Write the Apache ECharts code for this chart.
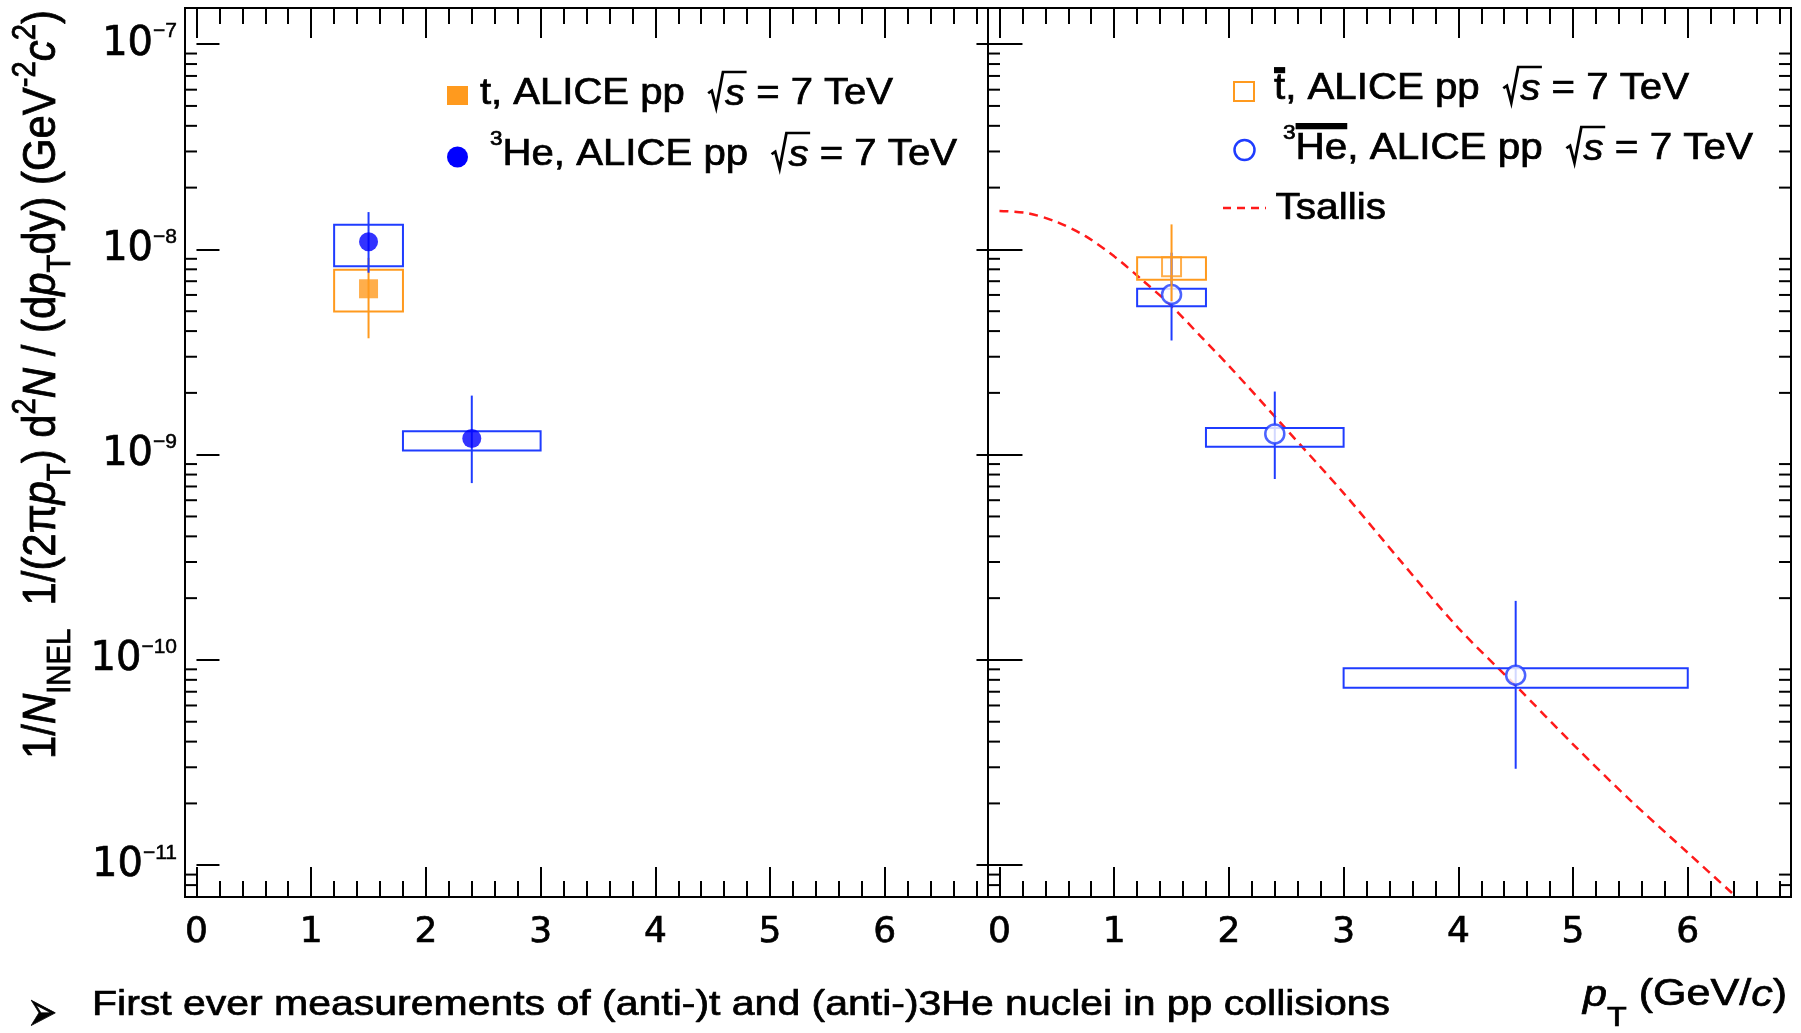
<!DOCTYPE html>
<html><head><meta charset="utf-8">
<script src="https://cdn.jsdelivr.net/npm/echarts@6/dist/echarts.min.js"></script>
<style>html,body{margin:0;padding:0;background:#fff}#c{width:1801px;height:1033px}</style>
</head><body><div id="c"></div>
<script>
// ---------------- data ----------------
const xTickValues = [0, 1, 2, 3, 4, 5, 6];
const yTickPowers = [-11, -10, -9, -8, -7];

// left panel : t, ALICE pp 7 TeV
const tPt        = [1.5];
const tYield     = [6.43e-9];
const tStatLow   = [3.69e-9];
const tStatHigh  = [9.1e-9];
const tSystLow   = [4.99e-9];
const tSystHigh  = [7.96e-9];
const tBinLow    = [1.2];
const tBinHigh   = [1.8];

// left panel : 3He, ALICE pp 7 TeV
const he3Pt       = [1.5, 2.4];
const he3Yield    = [1.09e-8, 1.20e-9];
const he3StatLow  = [7.7e-9, 7.27e-10];
const he3StatHigh = [1.52e-8, 1.94e-9];
const he3SystLow  = [8.29e-9, 1.047e-9];
const he3SystHigh = [1.32e-8, 1.30e-9];
const he3BinLow   = [1.2, 1.8];
const he3BinHigh  = [1.8, 3.0];

// right panel : anti-t
const atPt        = [1.5];
const atYield     = [8.23e-9];
const atStatLow   = [5.6e-9];
const atStatHigh  = [1.324e-8];
const atSystLow   = [7.11e-9];
const atSystHigh  = [9.17e-9];
const atBinLow    = [1.2];
const atBinHigh   = [1.8];

// right panel : anti-3He
const ahePt       = [1.5, 2.4, 4.5];
const aheYield    = [6.03e-9, 1.262e-9, 8.42e-11];
const aheStatLow  = [3.6e-9, 7.61e-10, 2.95e-11];
const aheStatHigh = [9.64e-9, 2.03e-9, 1.94e-10];
const aheSystLow  = [5.29e-9, 1.094e-9, 7.33e-11];
const aheSystHigh = [6.43e-9, 1.349e-9, 9.11e-11];
const aheBinLow   = [1.2, 1.8, 3.0];
const aheBinHigh  = [1.8, 3.0, 6.0];

// right panel : Tsallis fit curve
const tsallisPt = [0, 0.25, 0.5, 0.75, 1.0, 1.25, 1.5, 1.75, 2.0, 2.5, 3.0, 3.5, 4.0, 4.5, 5.0, 5.5, 6.0, 6.4];
const tsallisY  = [1.54e-8, 1.50e-8, 1.36e-8, 1.16e-8, 9.25e-9, 7.05e-9, 5.3e-9, 3.79e-9, 2.71e-9,
                   1.33e-9, 6.5e-10, 3.02e-10, 1.43e-10, 7.5e-11, 3.88e-11, 2.07e-11, 1.15e-11, 7.2e-12];

// axis ranges
const xMin = -0.1, xMax = 6.9;
const yMin = 7e-12, yMax = 1.5e-7;

// ---------------- styling ----------------
const ORANGE = '#ff9a1e';
const BLUE = '#0000ff';
const BLUE_BOX = '#1f3cff';
const RED = '#ff1a1a';
const FAM = '"Liberation Sans", Arial, Helvetica, sans-serif';
const NUMFAM = '"DejaVu Sans", sans-serif';
const TEXT_STROKE = 0.7;

// minor tick positions of the log axis (2..9 x 10^n inside the range)
const yMinorTicks = [];
for (let e = -12; e <= -7; e++) for (let m = 2; m <= 9; m++) {
  const v = m * Math.pow(10, e);
  if (v > yMin * 1.0001 && v < yMax * 0.9999) yMinorTicks.push(v);
}

// ---------------- text helpers ----------------
const mctx = document.createElement('canvas').getContext('2d');
function fnt(sz, it, fam) { return (it ? 'italic ' : '') + sz.toFixed(2) + 'px ' + (fam || FAM); }
function txt(t, x, by, f, sz) {
  return { type: 'text', x: x, y: by - 0.3465 * sz,
    style: { text: t, font: f, fill: '#000', stroke: '#000', lineWidth: TEXT_STROKE,
      align: 'left', verticalAlign: 'middle', textAlign: 'left', textVerticalAlign: 'middle' } };
}
function buildText(segs, o) {
  const S = o.size;
  let cx = 0; const kids = [];
  for (const s of segs) {
    const sz = (s.k || 1) * S;
    const by = (s.dy || 0) * S;
    if (s.sqrt) {
      const rw = 0.45 * sz;
      const f = fnt(sz, true, o.family);
      mctx.font = f; const ws = mctx.measureText(s.sqrt).width;
      kids.push({ type: 'polyline', shape: { points: [
        [cx + 0.03 * sz, by - 0.38 * sz], [cx + 0.12 * sz, by - 0.45 * sz], [cx + 0.23 * sz, by + 0.02 * sz],
        [cx + 0.40 * sz, by - 0.97 * sz], [cx + rw + ws + 0.04 * sz, by - 0.97 * sz]] },
        style: { stroke: '#000', fill: 'none', lineWidth: 2.5 } });
      kids.push(txt(s.sqrt, cx + rw, by, f, sz));
      cx += rw + ws;
      continue;
    }
    const f = fnt(sz, s.i, s.fam || o.family);
    mctx.font = f; const w = mctx.measureText(s.t).width;
    kids.push(txt(s.t, cx, by, f, sz));
    if (s.bar) kids.push({ type: 'rect', shape: { x: cx, y: s.bar[0] * S, width: w, height: s.bar[1] * S }, style: { fill: '#000' } });
    cx += w;
  }
  const sx = o.width ? o.width / cx : (o.sx || 1);
  return { type: 'group', x: o.x, y: o.y, rotation: o.rotation || 0, scaleX: sx, scaleY: o.sy || 1, children: kids, silent: true };
}

// ---------------- series helpers ----------------
function boxSeries(xi, yi, lo, hi, ylo, yhi, color, z) {
  return { type: 'custom', xAxisIndex: xi, yAxisIndex: yi, silent: true, z: z, animation: false,
    data: lo.map((v, i) => [lo[i], hi[i], ylo[i], yhi[i]]),
    encode: { x: [0, 1], y: [2, 3] },
    renderItem: (p, api) => {
      const a = api.coord([api.value(0), api.value(3)]);
      const b = api.coord([api.value(1), api.value(2)]);
      return { type: 'rect', shape: { x: a[0], y: a[1], width: b[0] - a[0], height: b[1] - a[1] },
        style: { fill: 'none', stroke: color, lineWidth: 2 } };
    } };
}
function errSeries(xi, yi, x, lo, hi, color, z) {
  return { type: 'custom', xAxisIndex: xi, yAxisIndex: yi, silent: true, z: z, animation: false,
    data: x.map((v, i) => [x[i], lo[i], hi[i]]),
    encode: { x: 0, y: [1, 2] },
    renderItem: (p, api) => {
      const a = api.coord([api.value(0), api.value(1)]);
      const b = api.coord([api.value(0), api.value(2)]);
      return { type: 'line', shape: { x1: a[0], y1: a[1], x2: b[0], y2: b[1] }, style: { stroke: color, lineWidth: 2 } };
    } };
}
function markerSeries(xi, yi, x, y, symbol, size, itemStyle, z) {
  return { type: 'scatter', xAxisIndex: xi, yAxisIndex: yi, silent: true, z: z, animation: false,
    symbol: symbol, symbolSize: size, itemStyle: itemStyle,
    data: x.map((v, i) => [x[i], y[i]]) };
}
function minorTickSeries(xi, yi, xEdge, dir) {
  return { type: 'custom', xAxisIndex: xi, yAxisIndex: yi, silent: true, z: 6, animation: false,
    data: yMinorTicks.map(v => [xEdge, v]), encode: { x: 0, y: 1 },
    renderItem: (p, api) => {
      const c = api.coord([api.value(0), api.value(1)]);
      return { type: 'line', shape: { x1: c[0], y1: c[1], x2: c[0] + dir * 12, y2: c[1] }, style: { stroke: '#000', lineWidth: 2 } };
    } };
}

// ---------------- axes ----------------
function xAxisDef(gi, pos, labels) {
  return { type: 'value', gridIndex: gi, position: pos, min: xMin, max: xMax, minInterval: 1, maxInterval: 1, splitNumber: 7,
    splitLine: { show: false }, axisLine: { show: false },
    axisTick: { show: true, inside: true, length: 30, lineStyle: { color: '#000', width: 2 } },
    minorTick: { show: true, splitNumber: 5, length: 16, lineStyle: { color: '#000', width: 2 } },
    minorSplitLine: { show: false },
    axisLabel: { show: labels, margin: 18, color: '#000', fontFamily: NUMFAM, fontSize: 36,
      textBorderColor: '#000', textBorderWidth: TEXT_STROKE,
      formatter: v => { const r = Math.round(v); return (Math.abs(v - r) < 1e-6 && xTickValues.includes(r)) ? String(r) : ''; } } };
}
function yAxisDef(gi, pos, labels) {
  return { type: 'log', logBase: 10, gridIndex: gi, position: pos, min: yMin, max: yMax,
    splitLine: { show: false }, axisLine: { show: false },
    axisTick: { show: true, inside: true, length: 23, lineStyle: { color: '#000', width: 2 } },
    minorTick: { show: false },
    axisLabel: { show: labels, margin: 8, color: '#000',
      formatter: v => {
        const l = Math.log10(v), e = Math.round(l);
        if (Math.abs(l - e) > 1e-6 || !yTickPowers.includes(e)) return '';
        return '{b|10}{s|' + (e < 0 ? '\u2212' : '') + Math.abs(e) + '}';
      },
      rich: {
        b: { fontFamily: NUMFAM, fontSize: 40, lineHeight: 40, color: '#000', verticalAlign: 'bottom', padding: [9, 0, 0, 0],
             textBorderColor: '#000', textBorderWidth: TEXT_STROKE },
        s: { fontFamily: FAM, fontSize: 21, lineHeight: 21, color: '#000', verticalAlign: 'bottom', padding: [0, 0, 22, 0],
             textBorderColor: '#000', textBorderWidth: TEXT_STROKE * 0.7 }
      } } };
}

// ---------------- graphics: legends, titles ----------------
const graphics = [];
// left legend
graphics.push({ type: 'rect', shape: { x: 447, y: 86, width: 21, height: 19 }, style: { fill: ORANGE }, silent: true });
graphics.push({ type: 'circle', shape: { cx: 457.5, cy: 157, r: 10.5 }, style: { fill: BLUE }, silent: true });
graphics.push(buildText([{ t: 't, ALICE pp  ' }, { sqrt: 's' }, { t: ' = 7 TeV' }], { x: 480, y: 107, size: 36, width: 413 }));
graphics.push(buildText([{ t: '3', k: 0.56, dy: -0.6 }, { t: 'He, ALICE pp  ' }, { sqrt: 's' }, { t: ' = 7 TeV' }], { x: 490, y: 168, size: 36, width: 467 }));
// right legend
graphics.push({ type: 'rect', shape: { x: 1234, y: 82, width: 20, height: 19 }, style: { fill: 'none', stroke: ORANGE, lineWidth: 2 }, silent: true });
graphics.push({ type: 'circle', shape: { cx: 1244.5, cy: 150, r: 10 }, style: { fill: 'none', stroke: BLUE_BOX, lineWidth: 2.5 }, silent: true });
graphics.push({ type: 'line', shape: { x1: 1223, y1: 208, x2: 1266, y2: 208 }, style: { stroke: RED, lineWidth: 2.5, lineDash: [8, 6] }, silent: true });
graphics.push(buildText([{ t: 't', bar: [-0.97, 0.17] }, { t: ', ALICE pp  ' }, { sqrt: 's' }, { t: ' = 7 TeV' }], { x: 1274, y: 102, size: 36, width: 415 }));
graphics.push(buildText([{ t: '3', k: 0.56, dy: -0.6 }, { t: 'He', bar: [-1.08, 0.17] }, { t: ', ALICE pp  ' }, { sqrt: 's' }, { t: ' = 7 TeV' }], { x: 1283, y: 162, size: 36, width: 470 }));
graphics.push(buildText([{ t: 'Tsallis' }], { x: 1275.5, y: 222, size: 36, width: 110.5 }));
// y axis title (rotated)
graphics.push(buildText([
  { t: '1/' }, { t: 'N', i: true }, { t: 'INEL', k: 0.7, dy: 0.3 }, { t: '  1/(2\u03c0' }, { t: 'p', i: true }, { t: 'T', k: 0.7, dy: 0.3 },
  { t: ') d' }, { t: '2', k: 0.7, dy: -0.45 }, { t: 'N', i: true }, { t: ' / (d' }, { t: 'p', i: true }, { t: 'T', k: 0.7, dy: 0.3 },
  { t: 'dy) (GeV' }, { t: '-2', k: 0.7, dy: -0.45 }, { t: 'c', i: true }, { t: '2', k: 0.7, dy: -0.45 }, { t: ')' }
], { x: 58, y: 759, size: 40, width: 749, rotation: Math.PI / 2, sy: 1.17 }));
// x axis title
graphics.push(buildText([{ t: 'p', i: true }, { t: 'T', k: 0.75, dy: 0.55 }, { t: ' (GeV/' }, { t: 'c', i: true }, { t: ')' }],
  { x: 1583, y: 1008, size: 36, width: 204 }));
// bottom bullet line
graphics.push(buildText([{ t: '\u27a2', fam: NUMFAM }], { x: 27, y: 1036, size: 58, sx: 0.62 }));
graphics.push(buildText([{ t: 'First ever measurements of (anti-)t and (anti-)3He nuclei in pp collisions' }],
  { x: 92, y: 1017, size: 35, width: 1298 }));

// ---------------- chart ----------------
const chart = echarts.init(document.getElementById('c'), null, { renderer: 'canvas' });
chart.setOption({
  animation: false,
  backgroundColor: '#fff',
  grid: [
    { left: 185, top: 8, width: 803, height: 889, show: true, borderColor: '#000', borderWidth: 2, backgroundColor: 'rgba(0,0,0,0)', containLabel: false, outerBoundsMode: 'none' },
    { left: 988, top: 8, width: 803, height: 889, show: true, borderColor: '#000', borderWidth: 2, backgroundColor: 'rgba(0,0,0,0)', containLabel: false, outerBoundsMode: 'none' }
  ],
  xAxis: [xAxisDef(0, 'bottom', true), xAxisDef(0, 'top', false), xAxisDef(1, 'bottom', true), xAxisDef(1, 'top', false)],
  yAxis: [yAxisDef(0, 'left', true), yAxisDef(1, 'left', false), yAxisDef(1, 'right', false)],
  series: [
    // right panel Tsallis curve
    { type: 'line', name: 'Tsallis', xAxisIndex: 2, yAxisIndex: 1, silent: true, z: 2, animation: false,
      symbol: 'none', smooth: 0.3, clip: true,
      lineStyle: { color: RED, width: 2.5, type: [9, 6] },
      data: tsallisPt.map((x, i) => [x, tsallisY[i]]) },
    // left panel t
    boxSeries(0, 0, tBinLow, tBinHigh, tSystLow, tSystHigh, ORANGE, 3),
    errSeries(0, 0, tPt, tStatLow, tStatHigh, ORANGE, 3),
    markerSeries(0, 0, tPt, tYield, 'rect', 19, { color: ORANGE }, 4),
    // left panel 3He
    boxSeries(0, 0, he3BinLow, he3BinHigh, he3SystLow, he3SystHigh, BLUE_BOX, 5),
    errSeries(0, 0, he3Pt, he3StatLow, he3StatHigh, BLUE_BOX, 5),
    markerSeries(0, 0, he3Pt, he3Yield, 'circle', 19, { color: BLUE }, 5),
    // right panel anti-3He
    boxSeries(2, 1, aheBinLow, aheBinHigh, aheSystLow, aheSystHigh, BLUE_BOX, 3),
    errSeries(2, 1, ahePt, aheStatLow, aheStatHigh, BLUE_BOX, 3),
    markerSeries(2, 1, ahePt, aheYield, 'circle', 19, { color: '#fff', borderColor: BLUE_BOX, borderWidth: 2.5 }, 4),
    // right panel anti-t
    boxSeries(2, 1, atBinLow, atBinHigh, atSystLow, atSystHigh, ORANGE, 5),
    errSeries(2, 1, atPt, atStatLow, atStatHigh, ORANGE, 5),
    markerSeries(2, 1, atPt, atYield, 'rect', 19, { color: 'rgba(0,0,0,0)', borderColor: ORANGE, borderWidth: 2 }, 5),
    // minor ticks of the log axes
    minorTickSeries(0, 0, xMin, 1),
    minorTickSeries(2, 1, xMin, 1),
    minorTickSeries(2, 2, xMax, -1)
  ],
  graphic: graphics
});
</script>
</body></html>
